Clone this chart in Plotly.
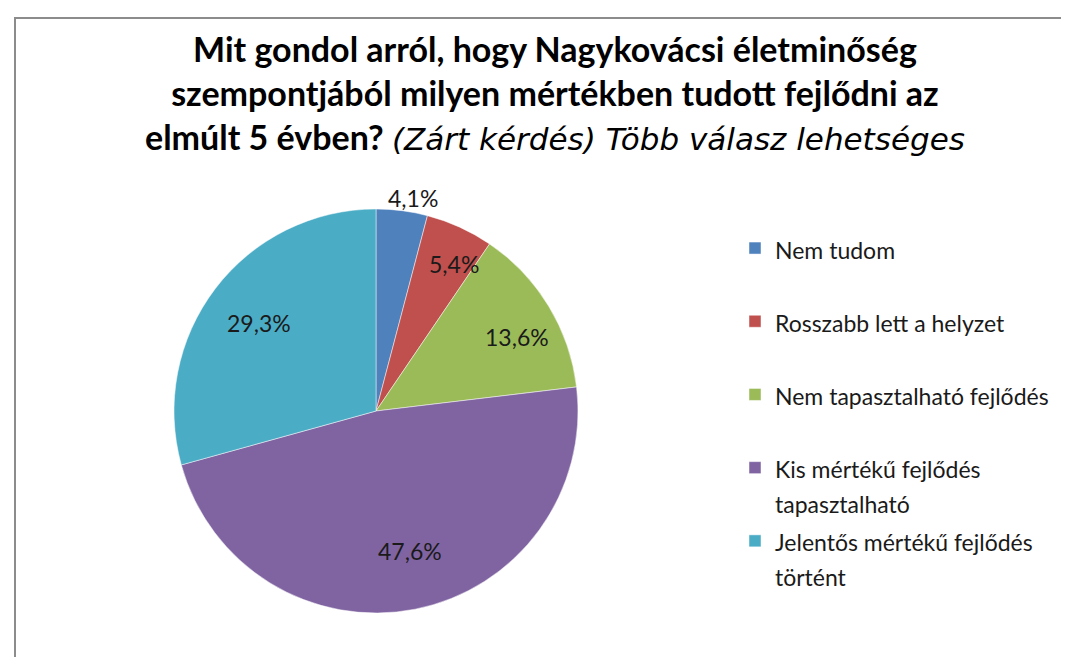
import math
import plotly.graph_objects as go

categories = [
    "Nem tudom",
    "Rosszabb lett a helyzet",
    "Nem tapasztalható fejlődés",
    "Kis mértékű fejlődés<br>tapasztalható",
    "Jelentős mértékű fejlődés<br>történt",
]
values = [4.1, 5.4, 13.6, 47.6, 29.3]
colors = ["#4F81BD", "#C0504D", "#9BBB59", "#8064A2", "#4BACC6"]
label_radius = [1.10, 0.84, 0.77, 0.67, 0.78]  # fraction of pie radius

title_bold = ("Mit gondol arról, hogy Nagykovácsi életminőség<br>"
              "szempontjából milyen mértékben tudott fejlődni az<br>"
              "elmúlt 5 évben? ")
title_italic = "(Zárt kérdés) Több válasz lehetséges"

W, H = 1069, 657
cx, cy, R = 376, 410, 202
dom_cx, dom_cy = cx - 8, cy - 7   # compensate plotly pie offset

legend_labels = [
    "<span style='font-size:23px'>" + (c if "<br>" in c else c + "<br> ") + "</span>"
    for c in categories
]
pct_text = [f"{v:.1f}%".replace(".", ",") for v in values]

fig = go.Figure(go.Pie(
    labels=legend_labels,
    values=values,
    textinfo="none",
    sort=False,
    direction="clockwise",
    rotation=0,
    marker=dict(colors=colors, line=dict(color="rgba(255,255,255,0.6)", width=0.8)),
    domain=dict(x=[(dom_cx - R) / W, (dom_cx + R) / W],
                y=[(H - dom_cy - R) / H, (H - dom_cy + R) / H]),
    hoverinfo="percent",
))

# percentage labels at the mid-angle of each slice
total = sum(values)
cum = 0.0
annotations = []
for v, t, rf in zip(values, pct_text, label_radius):
    mid = (cum + v / 2) / total * 2 * math.pi
    cum += v
    x = cx + rf * R * math.sin(mid)
    y = cy - rf * R * math.cos(mid)
    annotations.append(dict(
        x=x / W, y=1 - y / H, xref="paper", yref="paper",
        text=t, showarrow=False, xanchor="center", yanchor="middle",
        font=dict(family="Lato", size=23, color="#1a1a1a"),
    ))

annotations.append(dict(
    x=547 / W, y=1 - 84 / H, xref="paper", yref="paper",
    xanchor="center", yanchor="middle", showarrow=False, align="center",
    text="<b>" + title_bold + "</b>" +
         "<i><span style='font-family:DejaVu Sans;font-size:31px'>" + title_italic + "</span></i>",
    font=dict(family="Lato", size=34, color="#000000"),
))

fig.update_layout(
    width=W, height=H,
    margin=dict(l=0, r=0, t=0, b=0),
    paper_bgcolor="white",
    plot_bgcolor="white",
    font=dict(family="Lato", color="#1a1a1a"),
    annotations=annotations,
    legend=dict(
        x=727 / W, xanchor="left",
        y=1 - 216 / H, yanchor="top",
        font=dict(family="Lato", size=27, color="#1a1a1a"),
        valign="top",
        bgcolor="rgba(0,0,0,0)",
    ),
    shapes=[dict(
        type="rect", xref="paper", yref="paper",
        x0=7 / W, x1=1.05, y0=-0.05, y1=1 - 10 / H,
        line=dict(color="#8c8c8c", width=2), fillcolor="rgba(0,0,0,0)",
    )],
)

fig.write_html("out.html")
